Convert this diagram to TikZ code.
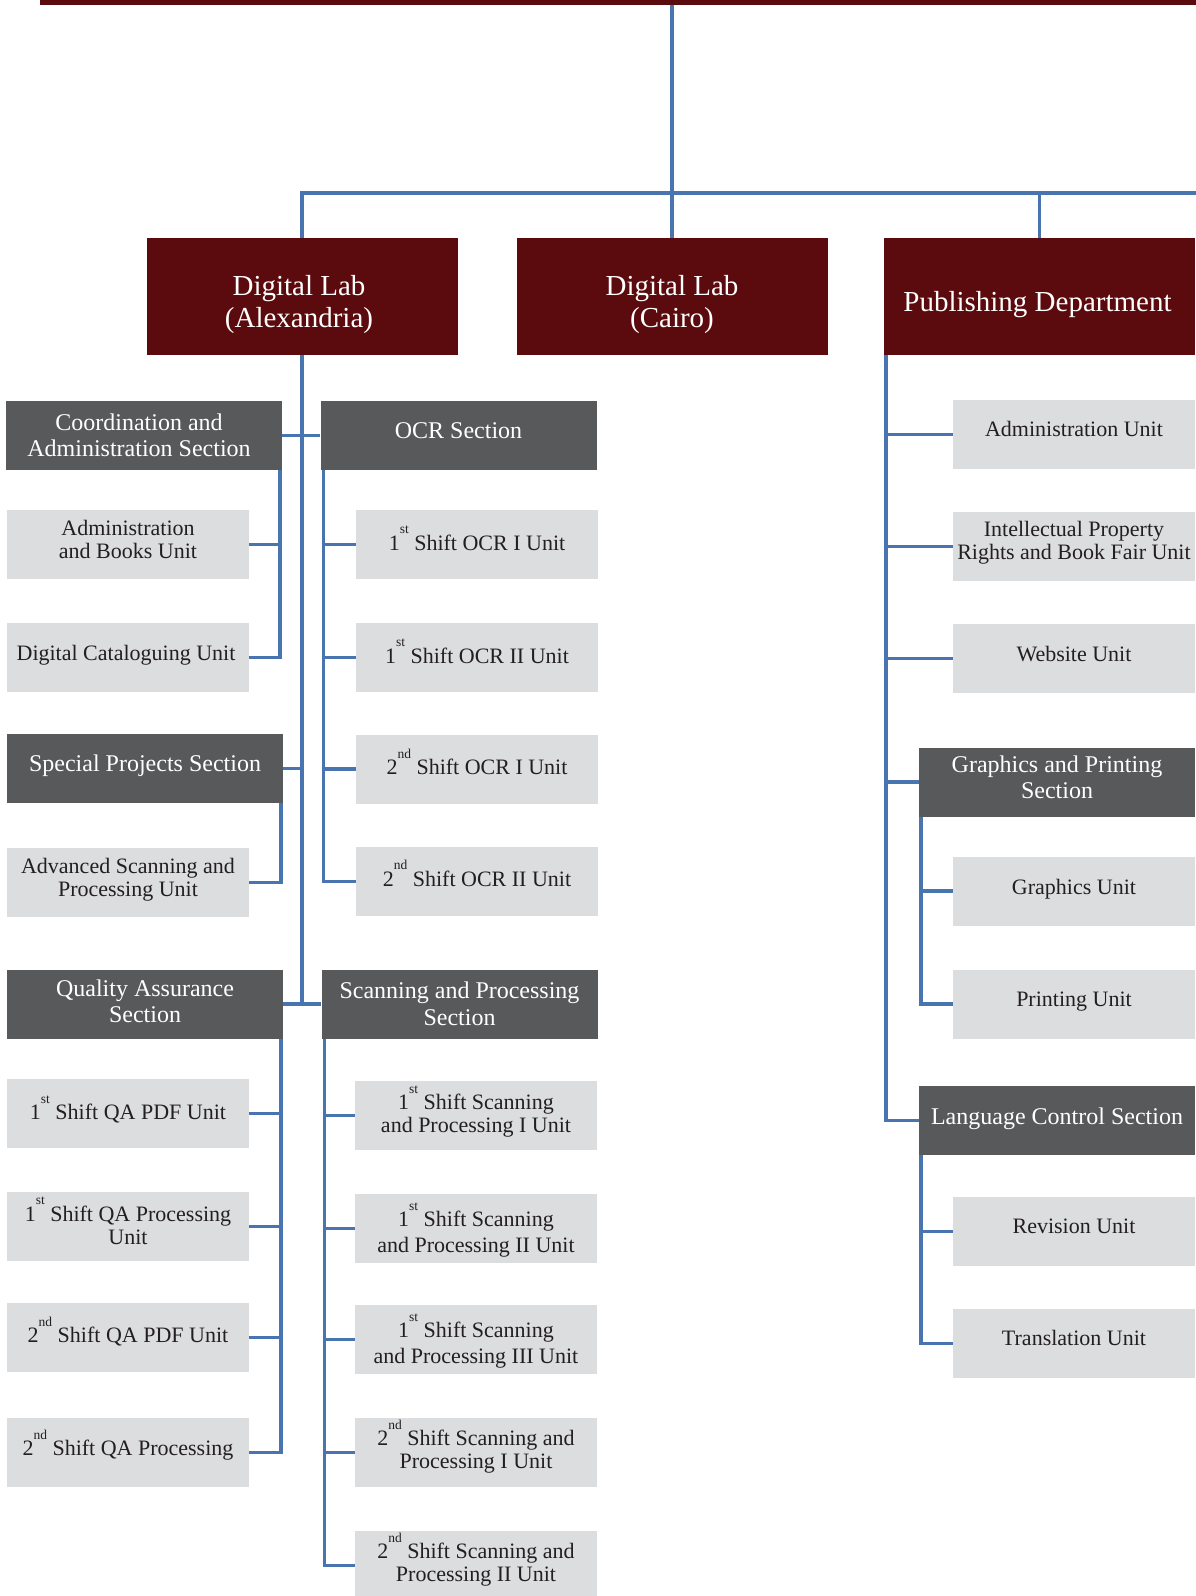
\documentclass[tikz,border=0pt]{standalone}
\usepackage{fontspec}
\setmainfont{Liberation Serif}
\definecolor{dlred}{RGB}{91,10,13}
\definecolor{secgray}{RGB}{88,89,91}
\definecolor{unitgray}{RGB}{220,221,223}
\definecolor{utext}{RGB}{35,31,32}
\definecolor{lblue}{RGB}{72,116,176}
\newcommand\sups[1]{\smash{\raisebox{0.74em}{\fontsize{13.5}{13.5}\selectfont #1}}}
\tikzset{
  topbox/.style={fill=dlred, minimum width=311pt, minimum height=117pt, inner sep=0pt},
  topbox text/.style={text=white, inner sep=0pt, align=center, font=\fontsize{29}{32}\selectfont},
  secbox/.style={fill=secgray, minimum width=276pt, minimum height=69pt, inner sep=0pt},
  secbox text/.style={text=white, inner sep=0pt, align=center, font=\fontsize{24}{25.5}\selectfont},
  unitbox/.style={fill=unitgray, minimum width=242pt, minimum height=69pt, inner sep=0pt},
  unitbox text/.style={text=utext, inner sep=0pt, align=center, font=\fontsize{22}{23}\selectfont},
  conn/.style={draw=lblue, line width=3.5pt}
}
% #1 label options, #2 style, #3 name, #4 x, #5 y, #6 text
\newcommand\mkbox[6][]{\node[#2, label={[#2 text, #1]center:{#6}}] (#3) at (#4,#5) {};}
\begin{document}
\begin{tikzpicture}[x=1pt,y=-1pt]
\fill[white] (0,0) rectangle (1195,1596);
\useasboundingbox (0,0) rectangle (1195,1596);

% head (cut off at top)
\node[fill=dlred, minimum width=1264pt, minimum height=117pt, inner sep=0pt] (head) at (672,-53.5) {};

% top level
\mkbox[yshift=-8pt, xshift=-3pt]{topbox}{alex}{302}{296.5}{Digital Lab\\(Alexandria)}
\mkbox[yshift=-8pt]{topbox}{cairo}{672}{296.5}{Digital Lab\\(Cairo)}
\mkbox[yshift=-8pt, xshift=-2pt]{topbox}{pub}{1039.5}{296.5}{Publishing Department}

\coordinate (hub) at (672,193);
\coordinate (hubR) at (1200,193);
\draw[conn] (head.south) -- (cairo.north);
\draw[conn] (hub) -| (alex.north);
\draw[conn] (hub) -- (hubR);
\draw[conn] (hub -| pub.north) -- (pub.north);

% Alexandria subtree
\mkbox[xshift=-5pt]{secbox}{coord}{144}{435.5}{Coordination and\\Administration Section}
\mkbox[yshift=5pt]{secbox}{ocr}{458.5}{435.5}{OCR Section}
\mkbox[yshift=5pt]{unitbox}{admb}{128}{544.5}{Administration\\and Books Unit}
\mkbox[yshift=2pt, xshift=-2pt]{unitbox}{dcat}{128}{657.5}{Digital Cataloguing Unit}
\mkbox[yshift=2pt]{unitbox}{ocr1}{477}{544.5}{1\sups{st} Shift OCR I Unit}
\mkbox[yshift=2pt]{unitbox}{ocr2}{477}{657.5}{1\sups{st} Shift OCR II Unit}
\mkbox[yshift=3pt]{secbox}{spec}{145}{768.5}{Special Projects Section}
\mkbox[yshift=3pt]{unitbox}{adv}{128}{882.5}{Advanced Scanning and\\Processing Unit}
\mkbox[yshift=2pt]{unitbox}{ocr3}{477}{769}{2\sups{nd} Shift OCR I Unit}
\mkbox[yshift=3pt]{unitbox}{ocr4}{477}{881.5}{2\sups{nd} Shift OCR II Unit}
\mkbox[yshift=2.5pt]{secbox}{qa}{145}{1004}{Quality Assurance\\Section}
\mkbox[]{secbox}{scan}{459.5}{1004}{Scanning and Processing\\[1.5pt]Section}
\mkbox[]{unitbox}{qa1}{128}{1113.5}{1\sups{st} Shift QA PDF Unit}
\mkbox[yshift=1.5pt]{unitbox}{qa2}{128}{1226.5}{1\sups{st} Shift QA Processing\\Unit}
\mkbox[yshift=1pt]{unitbox}{qa3}{128}{1337.5}{2\sups{nd} Shift QA PDF Unit}
\mkbox[yshift=2pt]{unitbox}{qa4}{128}{1452.5}{2\sups{nd} Shift QA Processing}
\mkbox[]{unitbox}{sp1}{476}{1115.5}{1\sups{st} Shift Scanning\\and Processing I Unit}
\mkbox[yshift=-5.5pt]{unitbox}{sp2}{476}{1228.5}{1\sups{st} Shift Scanning\\[3pt]and Processing II Unit}
\mkbox[yshift=-5.5pt]{unitbox}{sp3}{476}{1339.5}{1\sups{st} Shift Scanning\\[3pt]and Processing III Unit}
\mkbox[yshift=1pt]{unitbox}{sp4}{476}{1452.5}{2\sups{nd} Shift Scanning and\\Processing I Unit}
\mkbox[yshift=1pt]{unitbox}{sp5}{476}{1565.5}{2\sups{nd} Shift Scanning and\\Processing II Unit}

\draw[conn] (alex.south) -- (alex.south |- qa.east);
\draw[conn] (qa.east) -- (scan.west);
\draw[conn] (coord.east) -- (ocr.west);
\draw[conn] (spec.east) -- (spec.east -| alex.south);

\coordinate (cv) at ([xshift=-2pt]coord.south east);
\draw[conn] (cv) |- (dcat.east);
\draw[conn] (admb.east) -- (admb.east -| cv);

\coordinate (ov) at ([xshift=3pt]ocr.south west);
\draw[conn] (ov) |- (ocr4.west);
\foreach \n in {ocr1,ocr2,ocr3} \draw[conn] (\n.west) -- (\n.west -| ov);

\coordinate (sv) at ([xshift=-2pt]spec.south east);
\draw[conn] (sv) |- (adv.east);

\coordinate (qv) at ([xshift=-2pt]qa.south east);
\draw[conn] (qv) |- (qa4.east);
\foreach \n in {qa1,qa2,qa3} \draw[conn] (\n.east) -- (\n.east -| qv);

\coordinate (scv) at ([xshift=3pt]scan.south west);
\draw[conn] (scv) |- (sp5.west);
\foreach \n in {sp1,sp2,sp3,sp4} \draw[conn] (\n.west) -- (\n.west -| scv);

% Publishing subtree
\mkbox[yshift=6pt]{unitbox}{adm}{1074}{434.5}{Administration Unit}
\mkbox[yshift=3.5pt]{unitbox}{ipr}{1074}{546.5}{Intellectual Property\\Rights and Book Fair Unit}
\mkbox[yshift=4pt]{unitbox}{web}{1074}{658.5}{Website Unit}
\mkbox[yshift=4.5pt]{secbox}{gps}{1057}{782}{Graphics and Printing\\Section}
\mkbox[yshift=2pt]{unitbox}{gra}{1074}{891}{Graphics Unit}
\mkbox[yshift=2pt]{unitbox}{prn}{1074}{1004}{Printing Unit}
\mkbox[yshift=2pt]{secbox}{lcs}{1057}{1120.5}{Language Control Section}
\mkbox[yshift=5pt]{unitbox}{rev}{1074}{1231.5}{Revision Unit}
\mkbox[yshift=6pt]{unitbox}{trn}{1074}{1343.5}{Translation Unit}

\coordinate (pv) at ([xshift=2pt]pub.south west);
\draw[conn] (pv) |- (lcs.west);
\foreach \n in {adm,ipr,web,gps} \draw[conn] (\n.west) -- (\n.west -| pv);

\coordinate (gv) at ([xshift=2pt]gps.south west);
\draw[conn] (gv) |- (prn.west);
\draw[conn] (gra.west) -- (gra.west -| gv);

\coordinate (lv) at ([xshift=2pt]lcs.south west);
\draw[conn] (lv) |- (trn.west);
\draw[conn] (rev.west) -- (rev.west -| lv);
\end{tikzpicture}
\end{document}
